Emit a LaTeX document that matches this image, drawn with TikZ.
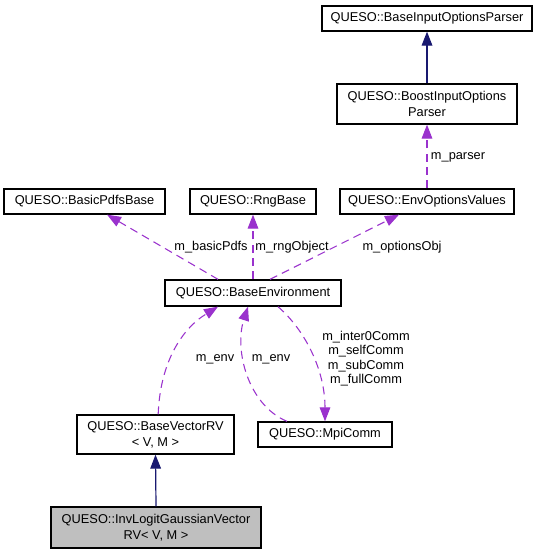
\documentclass[tikz,border=0pt]{standalone}
\usepackage{fontspec}
\setmainfont{Liberation Sans}
\usetikzlibrary{arrows.meta}
\definecolor{depc}{HTML}{9A32CD}
\definecolor{inhc}{HTML}{191970}
\definecolor{gfill}{HTML}{BFBFBF}
\begin{document}
\begin{tikzpicture}[x=0.75pt,y=-0.75pt,
  cls/.style={draw=black, line width=1pt, fill=white, inner sep=0pt, align=center,
    font=\fontsize{9.6}{12}\selectfont},
  sz/.style 2 args={minimum width=#1*0.75pt, minimum height=#2*0.75pt},
  lbl/.style={inner sep=0pt, align=center, font=\fontsize{9.6}{10.8}\selectfont},
  depE/.style={draw=depc, line width=0.8pt, dash pattern=on 6pt off 4pt,
    -{Triangle[length=10.5pt,width=8pt]}, fill=none},
  inhE/.style={draw=inhc, line width=0.9pt, -{Triangle[length=10.5pt,width=8pt]}}]
\useasboundingbox (0,0) rectangle (541,555);
% classes
\node[cls, sz={210}{25}] (bip) at (427,18.5) {QUESO::BaseInputOptionsParser};
\node[cls, sz={180}{40}] (boost) at (427,104) {QUESO::BoostInputOptions\\Parser};
\node[cls, sz={174}{25}] (opts) at (427,201.5) {QUESO::EnvOptionsValues};
\node[cls, sz={126}{25}] (rng) at (253,201.5) {QUESO::RngBase};
\node[cls, sz={161}{25}] (pdfs) at (84.5,201.5) {QUESO::BasicPdfsBase};
\node[cls, sz={176}{26}] (env) at (253,293) {QUESO::BaseEnvironment};
\node[cls, sz={157}{39}] (vec) at (155.5,434.5) {QUESO::BaseVectorRV\\< V, M >};
\node[cls, sz={134}{25}] (mpi) at (325,434.5) {QUESO::MpiComm};
\node[cls, sz={210}{41}, fill=gfill] (inv) at (156,527.5) {QUESO::InvLogitGaussianVector\\RV< V, M >};
% labels
\node[lbl] (lparser) at (458,157) {m\_parser};
\node[lbl] (lpdfs) at (211,247) {m\_basicPdfs};
\node[lbl] (lrng) at (292,247) {m\_rngObject};
\node[lbl] (lopts) at (402,247) {m\_optionsObj};
\node[lbl] (lenv1) at (215,359) {m\_env};
\node[lbl] (lenv2) at (271,359) {m\_env};
\node[lbl] (lcomm) at (366,358.5) {m\_inter0Comm\\m\_selfComm\\m\_subComm\\m\_fullComm};
% edges
\draw[inhE] (boost.north) -- (bip.south);
\draw[depE] (opts.north) -- (boost.south);
\draw[depE] ([xshift=-26.25pt]env.north) -- ([xshift=16.9pt]pdfs.south);
\draw[depE] (env.north) -- (rng.south);
\draw[depE] ([xshift=12.75pt]env.north) -- ([xshift=-21pt]opts.south);
\draw[inhE] (inv.north) -- (vec.south);
\draw[depE] ([xshift=2pt]vec.north) .. controls (160,365) and (180,330) .. ([xshift=-26.25pt]env.south);
\draw[depE] ([xshift=-28.5pt]mpi.north) .. controls (248,405) and (234,350) .. ([xshift=-3.75pt]env.south);
\draw[depE] ([xshift=18.75pt]env.south) .. controls (305,330) and (325,370) .. (mpi.north);
\end{tikzpicture}
\end{document}
